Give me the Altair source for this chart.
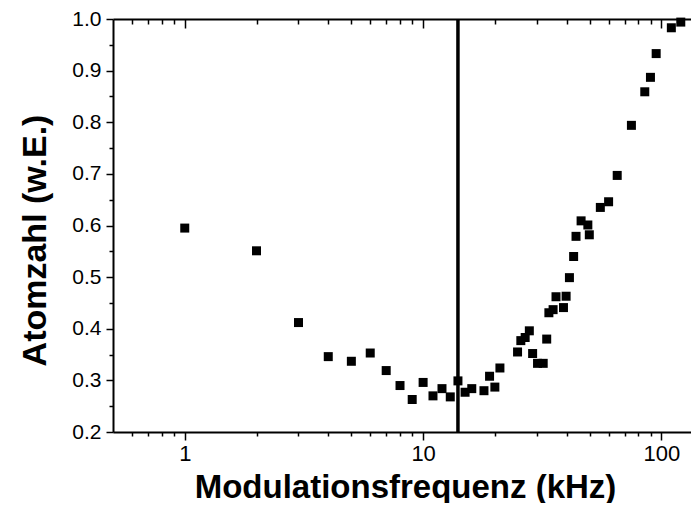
import altair as alt
import pandas as pd

# Data
freq = [1, 2, 3, 4, 5, 6, 7, 8, 9, 10, 11, 12, 13, 14, 15, 16, 18, 19, 20, 21,
        24.9, 25.7, 26.8, 27.9, 28.8, 30.2, 31.9, 33.0, 33.7, 35.1, 36.1, 38.8,
        39.8, 41.1, 42.8, 43.8, 46.0, 49.1, 49.8, 55.4, 60.0, 65.2, 74.8, 85.1,
        89.9, 95.0, 110.0, 120.5]
atoms = [0.595, 0.551, 0.412, 0.346, 0.337, 0.353, 0.319, 0.290, 0.263, 0.296,
         0.270, 0.284, 0.268, 0.299, 0.277, 0.284, 0.280, 0.308, 0.287, 0.324,
         0.355, 0.377, 0.383, 0.396, 0.352, 0.333, 0.333, 0.380, 0.431, 0.437,
         0.462, 0.441, 0.463, 0.499, 0.540, 0.579, 0.609, 0.601, 0.582, 0.635,
         0.646, 0.697, 0.794, 0.859, 0.887, 0.933, 0.983, 0.994]
marker_freq = [14.0]

x_major = [1, 10, 100]
x_minor = [0.6, 0.7, 0.8, 0.9, 2, 3, 4, 5, 6, 7, 8, 9,
           20, 30, 40, 50, 60, 70, 80, 90]
y_major = [0.2, 0.3, 0.4, 0.5, 0.6, 0.7, 0.8, 0.9, 1.0]
y_minor = [0.25, 0.35, 0.45, 0.55, 0.65, 0.75, 0.85, 0.95]

df = pd.DataFrame({"f": freq, "n": atoms})
vl = pd.DataFrame({"f": marker_freq})

FONT = "Liberation Sans"
xs = alt.Scale(type="log", domain=[0.5, 133], nice=False)
ys = alt.Scale(domain=[0.2, 1.0], nice=False, zero=False)


def ax(**kw):
    base = dict(grid=False, domainColor="black", tickColor="black",
                domainWidth=2, tickWidth=1.5, labelFont=FONT,
                labelColor="black", titleFont=FONT, titleColor="black")
    base.update(kw)
    return alt.Axis(**base)


points = alt.Chart(df).mark_square(size=81, color="black", opacity=1).encode(
    x=alt.X("f:Q", scale=xs, axis=ax(
        orient="bottom", values=x_major, format="d", tickSize=8,
        labelFontSize=22, labelPadding=3,
        title="Modulationsfrequenz (kHz)", titleFontSize=33,
        titleFontWeight="bold", titleX=292, titleY=65, titleAlign="center",
        titleBaseline="alphabetic")),
    y=alt.Y("n:Q", scale=ys, axis=ax(
        orient="left", values=y_major, format=".1f", tickSize=7,
        labelFontSize=21, labelPadding=5,
        title="Atomzahl (w.E.)", titleFontSize=34, titleFontWeight="bold",
        titleX=-68, titleY=221, titleAngle=270, titleAlign="center",
        titleBaseline="alphabetic")),
)

vline = alt.Chart(vl).mark_rule(color="black", strokeWidth=3.5).encode(
    x=alt.X("f:Q", scale=xs, axis=ax(
        orient="bottom", values=x_minor, tickSize=4, labels=False,
        domain=False, title=None)),
)

y_minor_layer = alt.Chart(df).mark_square(opacity=0).encode(
    x=alt.X("f:Q", scale=xs, axis=None),
    y=alt.Y("n:Q", scale=ys, axis=ax(
        orient="left", values=y_minor, tickSize=4, labels=False,
        domain=False, title=None)),
)

top_major = alt.Chart(vl).mark_rule(opacity=0).encode(
    x=alt.X("f:Q", scale=xs, axis=ax(
        orient="top", values=x_major, tickSize=9, offset=-9, labels=False,
        domain=False, title=None)),
)

top_minor = alt.Chart(vl).mark_rule(opacity=0).encode(
    x=alt.X("f:Q", scale=xs, axis=ax(
        orient="top", values=x_minor, tickSize=5, offset=-5, labels=False,
        domain=False, title=None)),
)

top_line = alt.Chart(vl).mark_rule(opacity=0).encode(
    x=alt.X("f:Q", scale=xs, axis=ax(
        orient="top", ticks=False, labels=False, domain=True, title=None)),
)

chart = alt.layer(
    vline, points, y_minor_layer, top_major, top_minor, top_line
).resolve_axis(
    x="independent", y="independent"
).properties(
    width=578, height=413,
    autosize=alt.AutoSizeParams(type="none"),
    padding={"left": 105, "top": 11, "right": 0, "bottom": 71},
).configure_view(strokeWidth=0)

chart.save("out.html", embed_options={"renderer": "svg", "actions": False})
